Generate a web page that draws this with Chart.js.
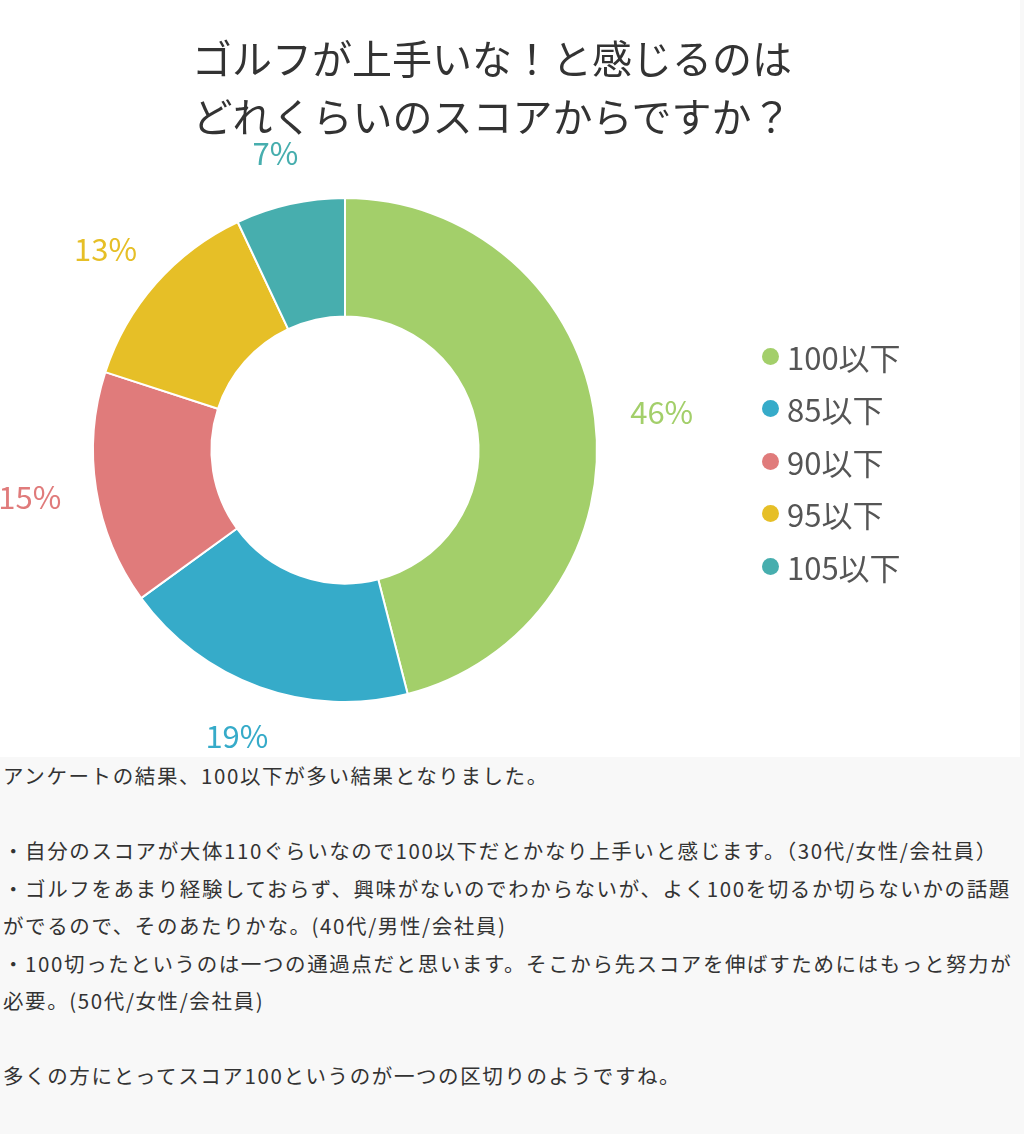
<!DOCTYPE html>
<html><head><meta charset="utf-8">
<script src="https://cdn.jsdelivr.net/npm/chart.js@4/dist/chart.umd.min.js"></script>
<style>
body{margin:0;background:#f8f8f8;font-family:"Noto Sans CJK JP",sans-serif;}
#wrap{position:relative;width:1020px;height:757px;background:#fff;}
#title{position:absolute;left:0;width:984px;top:28px;text-align:center;font-size:40px;line-height:58px;color:#333;}
#legend{position:absolute;left:762px;top:330px;font-size:31px;color:#555;}
#legend div{height:52.5px;display:flex;align-items:center;}
#legend span{display:inline-block;width:17px;height:17px;border-radius:50%;margin-right:8px;}
#txt{font-size:20.5px;letter-spacing:1.6px;color:#333;line-height:37.5px;padding:0 3px;width:1018px;}
</style></head><body>
<div id="wrap"><canvas id="c" width="1020" height="757"></canvas>
<div id="title">ゴルフが上手いな！と感じるのは<br>どれくらいのスコアからですか？</div><div id="legend"></div></div>
<div id="txt">アンケートの結果、100以下が多い結果となりました。<br><br>・自分のスコアが大体110ぐらいなので100以下だとかなり上手いと感じます。（30代/女性/会社員）<br>・ゴルフをあまり経験しておらず、興味がないのでわからないが、よく100を切るか切らないかの話題がでるので、そのあたりかな。(40代/男性/会社員)<br>・100切ったというのは一つの通過点だと思います。そこから先スコアを伸ばすためにはもっと努力が必要。(50代/女性/会社員)<br><br>多くの方にとってスコア100というのが一つの区切りのようですね。</div>
<script>
const categories=["100以下","85以下","90以下","95以下","105以下"];
const values=[46,19,15,13,7];
const colors=["#a3cf6a","#36abc9","#e07b7b","#e6bf27","#47aeae"];
const lg=document.getElementById('legend');
categories.forEach((c,i)=>{lg.innerHTML+=`<div><span style="background:${colors[i]}"></span>${c}</div>`;});
const outLabels={id:'outLabels',afterDraw(ch){const ctx=ch.ctx;const meta=ch.getDatasetMeta(0);
ctx.save();ctx.font='31px "Noto Sans CJK JP",sans-serif';ctx.textAlign='center';ctx.textBaseline='middle';
meta.data.forEach((a,i)=>{const m=(a.startAngle+a.endAngle)/2;const r=a.outerRadius+52;
ctx.fillStyle=colors[i];ctx.fillText(values[i]+'%',a.x+Math.cos(m)*r*1.05,a.y+Math.sin(m)*r);});ctx.restore();}};
new Chart(document.getElementById('c'),{type:'doughnut',
data:{labels:categories,datasets:[{data:values,backgroundColor:colors,borderColor:'#fff',borderWidth:2}]},
options:{responsive:false,animation:false,cutout:'53%',
layout:{padding:{left:92,right:422,bottom:54,top:197}},
plugins:{legend:{display:false},tooltip:{enabled:false},title:{display:false}}},
plugins:[outLabels]});
</script></body></html>
